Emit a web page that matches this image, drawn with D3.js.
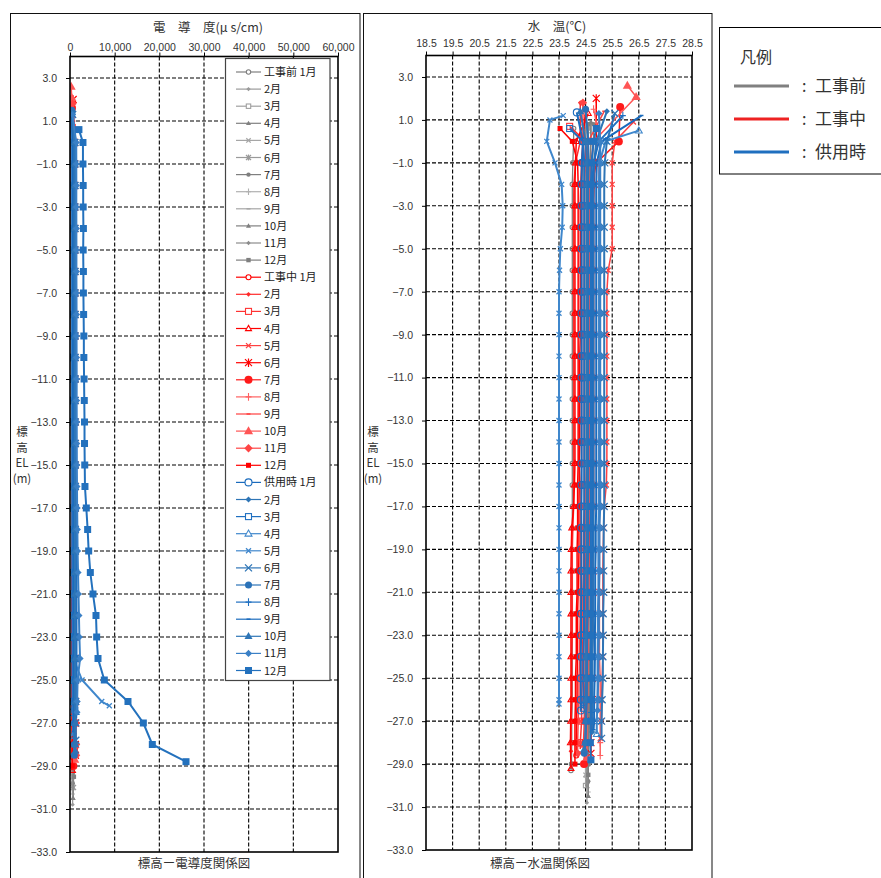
<!DOCTYPE html>
<html><head><meta charset="utf-8">
<script src="https://cdn.jsdelivr.net/npm/d3@7"></script>
<style>body{margin:0;background:#fff;}svg{display:block;}</style>
</head><body><svg id="c" width="881" height="878"></svg>
<script>
// ---------------- DATA ----------------
const months = ["1月","2月","3月","4月","5月","6月","7月","8月","9月","10月","11月","12月"];
const phases = ["工事前","工事中","供用時"];
const levels = [0,-1,-2,-3,-4,-5,-6,-7,-8,-9,-10,-11,-12,-13,-14,-15,-16,-17,-18,-19,-20,-21,-22,-23,-24,-25,-26,-27,-28,-29,-30];
const elevTicks = [3,1,-1,-3,-5,-7,-9,-11,-13,-15,-17,-19,-21,-23,-25,-27,-29,-31,-33];
const condTicks = [0,10000,20000,30000,40000,50000,60000];
const tempTicks = [18.5,19.5,20.5,21.5,22.5,23.5,24.5,25.5,26.5,27.5,28.5];

// 工事前
const preTopZ = [[0.6],[0.8],[0.5],[0.9],[0.7],[0.6],[0.8],[0.5],[0.7],[0.9],[0.6],[0.8]];
const preTopC = [[300],[350],[280],[400],[320],[310],[360],[290],[330],[380],[300],[340]];
const preTopT = [[24.05],[24.5],[24.6],[24.7],[24.4],[24.6],[24.8],[24.5],[24.6],[24.7],[24.5],[24.6]];
const preCond = [
 [310,315,320,330,325,340,345,350,348,360,365,370,372,380,385,390,395,400,405,410,412,420,425,430,440,445,450,460,470,480],
 [420,425,430,428,440,445,450,455,460,462,470,475,480,484,490,495,500,505,510,515,520,522,530,535,540,545,550,560,570,580],
 [280,285,290,300,298,310,312,320,325,330,335,340,342,350,355,360,362,370,375,380,384,390,395,400,402,410,415,420,430,440],
 [500,505,510,512,520,525,530,535,540,545,550,552,560,565,570,572,580,585,590,595,600,605,610,615,620,625,630,640,650,660],
 [360,362,370,375,380,382,390,395,400,405,410,412,420,425,430,432,440,445,450,455,460,462,470,475,480,485,490,500,510,520],
 [600,605,610,620,625,630,635,640,645,650,655,660,665,670,675,680,685,690,695,700,705,710,715,720,725,730,735,745,760,780],
 [450,455,460,462,470,475,480,482,490,495,500,505,510,515,520,522,530,535,540,545,550,552,560,565,570,575,580,590,600,610],
 [380,382,390,395,400,402,410,415,420,425,430,432,440,445,450,452,460,465,470,475,480,482,490,495,500,505,510,520,530,540],
 [330,335,340,342,350,355,360,362,370,375,380,382,390,395,400,402,410,415,420,425,430,432,440,445,450,455,460,470,480,490],
 [520,525,530,532,540,545,550,552,560,565,570,572,580,585,590,592,600,605,610,615,620,622,630,635,640,645,650,660,670,680],
 [410,412,420,425,430,432,440,445,450,452,460,465,470,472,480,485,490,492,500,505,510,512,520,525,530,535,540,550,560,570],
 [700,705,710,712,720,725,730,732,740,745,750,752,760,765,770,772,780,785,790,795,800,802,810,815,820,825,830,840,850,860]
];
const preTemp = [
 [24.05,24.02,24.0,24.0,24.0,24.0,24.0,24.0,24.0,24.0, 24.0,24.0,24.0,24.0,24.0,24.0,24.0,24.0,24.0,24.0, 24.0,24.0,24.0,24.0,24.0,24.0,24.0,23.98,23.98,23.97],
 [24.5,24.48,24.5,24.5,24.5,24.52,24.5,24.5,24.5,24.5, 24.5,24.5,24.5,24.52,24.52,24.52,24.52,24.52,24.52,24.52, 24.52,24.52,24.52,24.54,24.54,24.54,24.54,24.55,24.55,24.55],
 [24.6,24.58,24.55,24.55,24.55,24.55,24.55,24.55,24.55,24.55, 24.55,24.55,24.55,24.55,24.55,24.55,24.55,24.55,24.52,24.52, 24.52,24.52,24.5,24.5,24.5,24.5,24.5,24.5,24.5,24.5],
 [24.7,24.68,24.65,24.65,24.65,24.65,24.65,24.65,24.65,24.65, 24.65,24.65,24.65,24.65,24.65,24.65,24.65,24.65,24.62,24.62, 24.62,24.62,24.62,24.6,24.6,24.6,24.6,24.6,24.6,24.6],
 [24.4,24.42,24.45,24.45,24.45,24.45,24.45,24.45,24.45,24.45, 24.45,24.45,24.45,24.45,24.48,24.48,24.48,24.48,24.48,24.48, 24.48,24.48,24.5,24.5,24.5,24.5,24.5,24.5,24.5,24.5],
 [24.6,24.6,24.6,24.6,24.6,24.6,24.58,24.58,24.58,24.58, 24.58,24.58,24.58,24.58,24.58,24.58,24.56,24.56,24.56,24.56, 24.56,24.56,24.56,24.55,24.55,24.55,24.55,24.55,24.55,24.55],
 [24.8,24.75,24.72,24.7,24.7,24.7,24.7,24.7,24.7,24.7, 24.7,24.7,24.7,24.7,24.68,24.68,24.68,24.68,24.68,24.66, 24.66,24.66,24.66,24.66,24.65,24.65,24.65,24.65,24.62,24.6],
 [24.5,24.52,24.55,24.55,24.55,24.55,24.55,24.55,24.58,24.58, 24.58,24.58,24.58,24.58,24.58,24.58,24.58,24.6,24.6,24.6, 24.6,24.6,24.6,24.6,24.6,24.6,24.6,24.6,24.6,24.6],
 [24.6,24.55,24.52,24.5,24.5,24.5,24.5,24.5,24.5,24.5, 24.5,24.5,24.5,24.5,24.5,24.5,24.5,24.5,24.5,24.5, 24.5,24.5,24.5,24.5,24.5,24.5,24.5,24.5,24.5,24.5],
 [24.7,24.65,24.62,24.6,24.6,24.6,24.6,24.6,24.6,24.6, 24.6,24.6,24.6,24.6,24.6,24.6,24.6,24.6,24.6,24.6, 24.6,24.6,24.6,24.6,24.6,24.6,24.6,24.6,24.6,24.6],
 [24.5,24.52,24.55,24.55,24.55,24.55,24.55,24.55,24.55,24.55, 24.55,24.55,24.55,24.55,24.55,24.55,24.55,24.55,24.55,24.55, 24.55,24.55,24.55,24.55,24.55,24.55,24.55,24.55,24.55,24.55],
 [24.6,24.6,24.62,24.62,24.62,24.62,24.62,24.62,24.62,24.62, 24.62,24.62,24.62,24.62,24.62,24.62,24.62,24.62,24.6,24.6, 24.6,24.6,24.6,24.6,24.6,24.6,24.6,24.6,24.6,24.6]
];
const preEndZ = [-29.3,-30.8,-30.0,-30.5,-29.5,-30.0,-29.8,-30.3,-29.6,-30.5,-30.0,-29.5];
const preEndC = [490,590,450,670,530,790,620,550,500,690,580,870];
const preEndT = [23.95,24.55,24.5,24.6,24.5,24.55,24.6,24.6,24.5,24.6,24.55,24.6];

// 工事中
const durTopZ = [[1.5],[1.8],[0.7],[1.3],[0.9],[2.0],[1.6],[1.5],[1.4],[2.6,2.08],[1.8],[0.6]];
const durTopC = [[350],[420],[500],[380],[600],[700],[450],[520],[480],[250,400],[550],[650]];
const durTopT = [[24.5],[24.3],[23.9],[24.6],[26.3],[24.9],[25.8],[24.8],[25.2],[26.07,26.4],[24.4],[23.54]];
const durCond = [
 [420,430,440,445,450,460,465,470,480,485, 490,500,505,510,520,525,530,540,545,550, 560,565,570,580,585,590,600,610,620],
 [620,630,635,640,650,655,660,670,675,680, 690,695,700,710,715,720,730,735,740,750, 755,760,770,775,780,790,800,810,820],
 [780,790,800,805,810,820,825,830,840,845, 850,860,865,870,880,885,890,900,905,910, 920,925,930,940,945,950,960,970,980],
 [350,360,365,370,380,385,390,400,405,410, 420,425,430,440,445,450,460,465,470,480, 485,490,500,505,510,520,530,540,550],
 [900,910,920,925,930,940,945,950,960,965, 970,980,985,990,1000,1005,1010,1020,1025,1030, 1040,1045,1050,1060,1065,1070,1080,1090],
 [1000,1010,1020,1025,1030,1040,1045,1050,1060,1065, 1070,1080,1085,1090,1100,1105,1110,1120,1125,1130, 1140,1145,1150,1160,1165,1170,1180,1190,1200],
 [550,560,565,570,580,585,590,600,605,610, 620,625,630,640,645,650,660,665,670,680, 685,690,700,705,710,720,730,740,750],
 [700,710,715,720,730,735,740,750,755,760, 770,775,780,790,795,800,810,815,820,830, 835,840,850,855,860,870,880,890,900],
 [480,490,495,500,510,515,520,530,535,540, 550,555,560,570,575,580,590,595,600,610, 615,620,630,635,640,650,660,670,680],
 [850,860,865,870,880,885,890,900,905,910, 920,925,930,940,945,950,960,965,970,980, 985,990,1000,1005,1010,1020,1030,1040,1050],
 [1150,1160,1165,1170,1180,1185,1190,1200,1205,1210, 1220,1225,1230,1240,1245,1250,1260,1265,1270,1280, 1285,1290,1300,1305,1310,1320,1330,1340,1350],
 [300,310,315,320,330,335,340,350,355,360, 370,375,380,390,395,400,410,415,420,430, 435,440,450,455,460,470,480,490,500]
];
const durTemp = [
 [24.4,24.35,24.32,24.3,24.3,24.3,24.3,24.3,24.3,24.3, 24.28,24.28,24.28,24.28,24.28,24.26,24.26,24.25,24.25,24.25, 24.24,24.22,24.2,24.2,24.2,24.18,24.18,24.16,24.15],
 [24.3,24.12,24.06,24.05,24.05,24.05,24.05,24.05,24.05,24.05, 24.05,24.05,24.05,24.05,24.05,24.05,24.05,24.05,24.02,24.0, 24.0,24.0,24.0,24.0,23.98,23.98,23.98,23.96,23.95],
 [24.5,24.48,24.45,24.45,24.45,24.45,24.45,24.45,24.45,24.45, 24.45,24.45,24.45,24.45,24.45,24.45,24.45,24.45,24.42,24.42, 24.42,24.4,24.4,24.4,24.38,24.38,24.35,24.35,24.3],
 [24.15,24.12,24.1,24.1,24.1,24.1,24.1,24.1,24.1,24.1, 24.1,24.1,24.1,24.1,24.1,24.1,24.08,24.05,23.98,23.96, 23.95,23.95,23.95,23.95,23.95,23.95,23.95,23.94,23.93],
 [25.6,25.5,25.5,25.5,25.5,25.5,25.35,25.3,25.3,25.3, 25.3,25.3,25.3,25.3,25.3,25.3,25.28,25.2,25.18,25.16, 25.15,25.15,25.15,25.15,25.15,25.12,25.1,25.1],
 [24.9,24.85,24.82,24.8,24.8,24.8,24.8,24.8,24.8,24.8, 24.8,24.8,24.8,24.8,24.8,24.8,24.8,24.8,24.78,24.78, 24.78,24.78,24.76,24.76,24.75,24.75,24.75,24.72,24.7],
 [25.75,24.9,24.75,24.72,24.7,24.7,24.7,24.7,24.7,24.7, 24.7,24.7,24.68,24.68,24.68,24.66,24.66,24.65,24.65,24.62, 24.62,24.6,24.6,24.58,24.56,24.55,24.52,24.5,24.48],
 [25.05,25.0,25.0,25.0,25.0,25.0,25.0,25.0,25.0,25.0, 25.0,25.0,25.0,25.0,25.0,25.0,25.0,25.02,25.02,25.02, 25.02,25.02,25.02,25.02,25.02,25.05,25.05,25.05,25.05],
 [24.6,24.58,24.55,24.55,24.55,24.55,24.55,24.55,24.55,24.55, 24.55,24.55,24.55,24.55,24.55,24.55,24.52,24.52,24.52,24.52, 24.5,24.5,24.5,24.5,24.48,24.48,24.45,24.45,24.42],
 [24.8,24.7,24.65,24.65,24.65,24.65,24.65,24.65,24.65,24.65, 24.65,24.65,24.65,24.65,24.65,24.65,24.65,24.65,24.62,24.62, 24.62,24.62,24.6,24.6,24.6,24.58,24.58,24.55,24.55],
 [24.4,24.38,24.35,24.35,24.35,24.35,24.35,24.35,24.35,24.35, 24.35,24.35,24.35,24.35,24.35,24.35,24.32,24.32,24.32,24.3, 24.3,24.3,24.3,24.28,24.28,24.25,24.25,24.22,24.2],
 [24.0,24.2,24.22,24.22,24.22,24.22,24.22,24.22,24.22,24.22, 24.22,24.22,24.22,24.22,24.22,24.22,24.2,24.2,24.2,24.18, 24.18,24.18,24.15,24.15,24.15,24.12,24.12,24.1,24.1]
];
const durEndZ = [-28.6,-28.4,-28.3,-29.2,-27.8,-28.5,-29.0,-28.6,-28.2,-28.7,-28.5,-29.0];
const durEndC = [630,830,990,560,1100,1210,760,910,690,1060,1360,510];
const durEndT = [24.15,23.95,24.3,23.95,25.05,24.7,24.44,25.05,24.4,24.55,24.2,24.1];

// 供用時
const postTopZ = [[1.35],[1.4],[0.6],[0.5],[1.2,1.0],[1.3],[1.5],[1.2],[1.2],[1.4],[1.3],[0.6]];
const postTopC = [[300],[400],[500],[350],[450,380],[600],[420],[520],[480],[390],[560],[2000]];
const postTopT = [[24.17],[25.3],[23.9],[26.5],[23.66,23.16],[25.6],[24.5],[25.9],[26.6],[24.3],[25.0],[24.9]];
const postCond = [
 [380,390,400,395,410,420,415,430,440,435, 450,460,455,470,480,475,490,500,495,510, 520,515,530,540,535,550,560],
 [650,660,670,665,680,690,685,700,710,705, 720,730,725,740,750,745,760,770,765,780, 790,785,800,810,805,820,830,840],
 [900,910,920,915,930,940,935,950,960,955, 970,980,975,990,1000,995,1010,1020,1015,1030, 1040,1035,1050,1060,1055,1070,1080],
 [520,530,540,535,550,560,555,570,580,575, 590,600,595,610,620,615,630,640,635,650, 660,655,670,680,675,690,700,710],
 [450,460,470,465,480,490,485,500,510,505, 520,530,525,540,550,545,560,570,575,590, 620,680,700,640,760,2700,7100],
 [1100,1110,1120,1115,1130,1140,1135,1150,1160,1155, 1170,1180,1175,1190,1200,1195,1210,1220,1215,1230, 1240,1235,1250,1260,1255,1270,1280,1290],
 [750,760,770,765,780,790,785,800,810,805, 820,830,825,840,850,845,860,870,865,880, 890,885,900,910,905,920,930,940,950],
 [1300,1310,1320,1315,1330,1340,1335,1350,1360,1355, 1370,1380,1375,1390,1400,1395,1410,1420,1415,1430, 1440,1435,1450,1460,1455,1470,1480],
 [600,610,620,615,630,640,635,650,660,655, 670,680,675,690,700,695,710,720,715,730, 740,735,750,760,755,770,780,790],
 [980,990,1000,995,1010,1020,1015,1030,1040,1035, 1050,1060,1055,1070,1080,1075,1090,1100,1095,1110, 1120,1115,1130,1140,1135,1150,1160,1170,1180],
 [1400,1410,1420,1415,1430,1440,1435,1450,1460,1455, 1470,1480,1475,1490,1500,1520,1560,1600,1650,1700, 1800,1900,2000,2100,2250,1700,1600],
 [2900,2900,2950,2950,3000,2950,3000,3000,3050,3100, 3100,3150,3200,3250,3250,3300,3350,3650,3950,4180, 4550,5150,5820,5970,6270,7680,12980,16420,18430]
];
const postTemp = [
 [24.4,24.36,24.35,24.35,24.35,24.35,24.35,24.35,24.35,24.35, 24.35,24.35,24.35,24.35,24.35,24.35,24.35,24.34,24.34,24.34, 24.34,24.34,24.33,24.33,24.32,24.32,24.32],
 [24.9,24.82,24.8,24.8,24.8,24.8,24.8,24.8,24.8,24.8, 24.8,24.8,24.8,24.8,24.8,24.8,24.8,24.8,24.8,24.8, 24.78,24.78,24.78,24.78,24.76,24.76,24.75,24.75],
 [24.4,24.45,24.45,24.45,24.45,24.45,24.45,24.45,24.45,24.45, 24.45,24.45,24.45,24.45,24.45,24.45,24.45,24.45,24.45,24.45, 24.45,24.44,24.44,24.44,24.42,24.42,24.42],
 [25.25,25.02,25.0,25.0,25.0,25.0,25.0,25.0,25.0,25.0, 25.0,25.0,25.0,25.0,25.0,25.0,25.0,25.0,24.98,24.98, 24.98,24.98,24.96,24.96,24.95,24.95,24.95,24.92],
 [23.04,23.35,23.6,23.64,23.62,23.55,23.52,23.5,23.5,23.5, 23.5,23.5,23.5,23.5,23.5,23.5,23.5,23.5,23.5,23.5, 23.5,23.5,23.5,23.5,23.5,23.5,23.5],
 [25.3,25.22,25.2,25.2,25.2,25.2,25.2,25.2,25.2,25.2, 25.2,25.2,25.2,25.2,25.2,25.2,25.2,25.2,25.18,25.18, 25.18,25.18,25.16,25.16,25.15,25.15,25.12,25.1],
 [24.6,24.6,24.6,24.6,24.6,24.6,24.6,24.6,24.6,24.6, 24.6,24.6,24.6,24.6,24.6,24.6,24.6,24.6,24.6,24.6, 24.58,24.58,24.58,24.56,24.56,24.55,24.55,24.52,24.5],
 [25.0,24.8,24.75,24.75,24.75,24.75,24.75,24.75,24.75,24.75, 24.75,24.75,24.75,24.75,24.75,24.75,24.75,24.75,24.75,24.75, 24.72,24.72,24.72,24.7,24.7,24.7,24.7],
 [25.1,24.92,24.9,24.9,24.9,24.9,24.9,24.9,24.9,24.9, 24.9,24.9,24.9,24.9,24.9,24.9,24.9,24.9,24.88,24.88, 24.86,24.86,24.86,24.85,24.85,24.84,24.82,24.82],
 [24.5,24.55,24.55,24.55,24.55,24.55,24.55,24.55,24.55,24.55, 24.55,24.55,24.55,24.55,24.55,24.55,24.55,24.55,24.55,24.55, 24.54,24.54,24.54,24.52,24.52,24.52,24.5,24.5,24.48],
 [25.05,25.05,25.05,25.05,25.05,25.05,25.05,25.05,25.05,25.05, 25.05,25.05,25.05,25.05,25.05,25.05,25.05,25.05,25.02,25.02, 25.02,25.0,25.0,25.0,24.98,24.98,24.95],
 [24.8,24.72,24.7,24.7,24.7,24.7,24.7,24.7,24.7,24.7, 24.7,24.7,24.7,24.7,24.7,24.7,24.7,24.7,24.7,24.7, 24.7,24.7,24.7,24.7,24.7,24.7,24.7,24.7,24.68]
];
const postEndZ = [-26.5,-27.5,-26.4,-27.6,-26.2,-27.8,-28.5,-26.6,-27.4,-28.3,-26.5,-28.8];
const postEndC = [570,850,1090,720,8800,1300,960,1490,800,1190,1550,25970];
const postEndT = [24.32,24.75,24.42,24.92,23.5,25.1,24.45,24.7,24.8,24.45,24.95,24.7];

// ---------------- STYLE ----------------
const JP = "'Noto Sans CJK JP','Noto Sans',sans-serif";
const NUM = "'Liberation Sans',Arial,sans-serif";
const groups = [
 {name:phases[0], topZ:preTopZ, topC:preTopC, topT:preTopT, C:preCond, T:preTemp, endZ:preEndZ, endC:preEndC, endT:preEndT, lw:1.3,
  colors:["#7f7f7f","#9a9a9a","#a0a0a0","#808080","#a6a6a6","#9a9a9a","#7f7f7f","#b0b0b0","#a6a6a6","#808080","#8c8c8c","#7f7f7f"],
  types:["circleOpen","diamond","squareOpen","triangle","x","asterisk","circle","plus","dash","triangle","diamond","square"],
  sizes:[2.2,1.8,2.2,2.2,2.2,2.5,2.2,2.5,2,2.2,1.8,2.2]},
 {name:phases[1], topZ:durTopZ, topC:durTopC, topT:durTopT, C:durCond, T:durTemp, endZ:durEndZ, endC:durEndC, endT:durEndT, lw:1.5,
  colors:["#ff0000","#ff2a2a","#ff3333","#ff0000","#ff4040","#ff0000","#ff1a1a","#ff6060","#ff4040","#ff5555","#ff4444","#ff0000"],
  types:["circleOpen","diamond","squareOpen","triangleOpen","x","asterisk","circle","plus","dash","triangle","diamond","square"],
  sizes:[2.5,2,3,2.6,2.5,3.5,4,3,2,4,3.5,2.5]},
 {name:phases[2], topZ:postTopZ, topC:postTopC, topT:postTopT, C:postCond, T:postTemp, endZ:postEndZ, endC:postEndC, endT:postEndT, lw:2,
  colors:["#1a6bbd","#2e75b6","#1f6fc0","#3f87cc","#3f87cc","#2e75b6","#2a72b8","#1f6fc0","#1a6bbd","#2e75b6","#3a80c6","#2371bd"],
  types:["circleOpen","diamond","squareOpen","triangleOpen","x","x","circle","plus","dash","triangle","diamond","square"],
  sizes:[3.5,2.5,3,3,2.5,3.5,3.5,3,2,3.5,3,3.5]}
];

const svg = d3.select("#c");

function marker(g, type, x, y, s, color, openFill){
  const sw = 1.1;
  const of = openFill || "none";
  switch(type){
    case "circleOpen": g.append("circle").attr("cx",x).attr("cy",y).attr("r",s).attr("fill",of).attr("stroke",color).attr("stroke-width",sw); break;
    case "circle": g.append("circle").attr("cx",x).attr("cy",y).attr("r",s).attr("fill",color); break;
    case "diamond": g.append("path").attr("d",`M${x},${y-s*1.2}L${x+s*1.2},${y}L${x},${y+s*1.2}L${x-s*1.2},${y}Z`).attr("fill",color); break;
    case "squareOpen": g.append("rect").attr("x",x-s).attr("y",y-s).attr("width",2*s).attr("height",2*s).attr("fill",of).attr("stroke",color).attr("stroke-width",sw); break;
    case "square": g.append("rect").attr("x",x-s).attr("y",y-s).attr("width",2*s).attr("height",2*s).attr("fill",color); break;
    case "triangle": g.append("path").attr("d",`M${x},${y-s*1.2}L${x+s*1.15},${y+s*0.8}L${x-s*1.15},${y+s*0.8}Z`).attr("fill",color); break;
    case "triangleOpen": g.append("path").attr("d",`M${x},${y-s*1.2}L${x+s*1.15},${y+s*0.8}L${x-s*1.15},${y+s*0.8}Z`).attr("fill",of).attr("stroke",color).attr("stroke-width",sw); break;
    case "x": g.append("path").attr("d",`M${x-s},${y-s}L${x+s},${y+s}M${x-s},${y+s}L${x+s},${y-s}`).attr("stroke",color).attr("stroke-width",1.3); break;
    case "asterisk": g.append("path").attr("d",`M${x-s},${y-s}L${x+s},${y+s}M${x-s},${y+s}L${x+s},${y-s}M${x},${y-s*1.2}L${x},${y+s*1.2}`).attr("stroke",color).attr("stroke-width",1.2); break;
    case "plus": g.append("path").attr("d",`M${x-s},${y}L${x+s},${y}M${x},${y-s*1.3}L${x},${y+s*1.3}`).attr("stroke",color).attr("stroke-width",1.1); break;
    case "dash": g.append("path").attr("d",`M${x-s},${y}L${x+s},${y}`).attr("stroke",color).attr("stroke-width",1.5); break;
  }
}

// outer frames
svg.append("rect").attr("x",10.5).attr("y",13.5).attr("width",349.5).attr("height",900).attr("fill","none").attr("stroke","#111").attr("stroke-width",1);
svg.append("rect").attr("x",363.5).attr("y",13.5).attr("width",348.5).attr("height",900).attr("fill","none").attr("stroke","#111").attr("stroke-width",1);

function panel(cfg){
  const x = d3.scaleLinear().domain(cfg.xDomain).range([cfg.x0,cfg.x1]);
  const y = d3.scaleLinear().domain([4,-33]).range([cfg.y0,cfg.y1]);
  const g = svg.append("g");
  g.append("g").selectAll("line").data(elevTicks.filter(d=>d>-33)).join("line")
    .attr("x1",cfg.x0).attr("x2",cfg.x1).attr("y1",d=>y(d)).attr("y2",d=>y(d))
    .attr("stroke","#000").attr("stroke-width",1.1).attr("stroke-dasharray","4,2");
  g.append("g").selectAll("line").data(cfg.ticks.slice(1,-1)).join("line")
    .attr("x1",d=>x(d)).attr("x2",d=>x(d)).attr("y1",cfg.y0).attr("y2",cfg.y1)
    .attr("stroke","#000").attr("stroke-width",1.1).attr("stroke-dasharray","4,2");
  const ya = g.append("g").attr("transform",`translate(${cfg.x0},0)`)
    .call(d3.axisLeft(y).tickValues(elevTicks).tickSize(4).tickPadding(9)
      .tickFormat(d=>(d<0?"\u2212":"")+Math.abs(d).toFixed(1)));
  ya.select(".domain").remove();
  ya.selectAll("text").attr("font-family",NUM).attr("font-size",10.5).attr("fill","#333");
  const xa = g.append("g").attr("transform",`translate(0,${cfg.y0})`)
    .call(d3.axisTop(x).tickValues(cfg.ticks).tickSize(4).tickPadding(cfg.tpad).tickFormat(cfg.fmt));
  xa.select(".domain").remove();
  xa.selectAll("text").attr("font-family",NUM).attr("font-size",10.5).attr("fill","#333");
  const cid = "clip"+cfg.key;
  svg.append("clipPath").attr("id",cid).append("rect").attr("x",cfg.x0).attr("y",cfg.y0).attr("width",cfg.x1-cfg.x0).attr("height",cfg.y1-cfg.y0);
  const dg = g.append("g").attr("clip-path",`url(#${cid})`);
  const line = d3.line().x(d=>x(d[1])).y(d=>y(d[0]));
  groups.forEach(gr=>{
    const top = cfg.key==="C"?gr.topC:gr.topT;
    const body = gr[cfg.key];
    const end = cfg.key==="C"?gr.endC:gr.endT;
    months.forEach((m,i)=>{
      const pts = gr.topZ[i].map((z,k)=>[z,top[i][k]])
        .concat(body[i].map((v,k)=>[levels[k],v]))
        .concat([[gr.endZ[i],end[i]]]);
      dg.append("path").attr("d",line(pts)).attr("fill","none").attr("stroke",gr.colors[i]).attr("stroke-width",gr.lw);
      const mg = dg.append("g");
      pts.forEach(p=>marker(mg,gr.types[i],x(p[1]),y(p[0]),gr.sizes[i],gr.colors[i]));
    });
  });
  g.append("rect").attr("x",cfg.x0).attr("y",cfg.y0).attr("width",cfg.x1-cfg.x0).attr("height",cfg.y1-cfg.y0)
    .attr("fill","none").attr("stroke","#000").attr("stroke-width",1.6);
  svg.append("text").attr("x",cfg.titleX).attr("y",cfg.titleY).attr("text-anchor","middle")
    .attr("font-family",JP).attr("font-size",12.5).attr("fill","#333").text(cfg.title);
  svg.append("text").attr("x",cfg.capX).attr("y",868).attr("text-anchor","middle")
    .attr("font-family",JP).attr("font-size",12.5).attr("fill","#333").text(cfg.caption);
  const yl = svg.append("g").attr("font-family",JP).attr("font-size",11.5).attr("fill","#333").attr("text-anchor","middle");
  [["標",436],["高",452],["EL",467],["(m)",483]].forEach(([t,yy])=>yl.append("text").attr("x",cfg.ylabX).attr("y",yy).text(t));
}

panel({key:"C", x0:70, x1:338, y0:56.5, y1:852, xDomain:[0,60000], ticks:condTicks, fmt:d3.format(","), tpad:2,
  title:"電　導　度(μ s/cm)", titleX:208, titleY:32, caption:"標高ー電導度関係図", capX:194, ylabX:22});
panel({key:"T", x0:426, x1:692, y0:55.5, y1:850, xDomain:[18.5,28.5], ticks:tempTicks, fmt:d=>d.toFixed(1), tpad:4.5,
  title:"水　温(℃)", titleX:557, titleY:31, caption:"標高ー水温関係図", capX:540, ylabX:373});

// left legend
const lg = svg.append("g");
lg.append("rect").attr("x",225.5).attr("y",58.5).attr("width",104.5).attr("height",622).attr("fill","#fff").attr("stroke","#444").attr("stroke-width",1.2);
let idx = 0;
groups.forEach(gr=>{
  months.forEach((m,i)=>{
    const yy = 72 + idx*17.1;
    lg.append("line").attr("x1",236).attr("x2",261).attr("y1",yy).attr("y2",yy).attr("stroke",gr.colors[i]).attr("stroke-width",1.2);
    marker(lg,gr.types[i],248.5,yy,gr.sizes[i],gr.colors[i],"#fff");
    lg.append("text").attr("x",264).attr("y",yy+4).attr("font-family",JP).attr("font-size",11).attr("fill","#222")
      .text(i===0?gr.name+" "+m:m);
    idx++;
  });
});

// right legend
const rg = svg.append("g");
rg.append("rect").attr("x",719.5).attr("y",27.5).attr("width",175).attr("height",146.5).attr("fill","#fff").attr("stroke","#000").attr("stroke-width",1);
rg.append("text").attr("x",740).attr("y",63).attr("font-family",JP).attr("font-size",16).attr("fill","#333").text("凡例");
const legColors = ["#808080","#ee2222","#1f6fbf"];
phases.forEach((p,i)=>{
  const yy = 86 + i*33;
  rg.append("line").attr("x1",734).attr("x2",789).attr("y1",yy).attr("y2",yy).attr("stroke",legColors[i]).attr("stroke-width",3);
  rg.append("text").attr("x",802).attr("y",yy+6).attr("font-family",JP).attr("font-size",16).attr("fill","#333").text(":");
  rg.append("text").attr("x",815).attr("y",yy+6).attr("font-family",JP).attr("font-size",17).attr("fill","#333").text(p);
});
</script></body></html>
